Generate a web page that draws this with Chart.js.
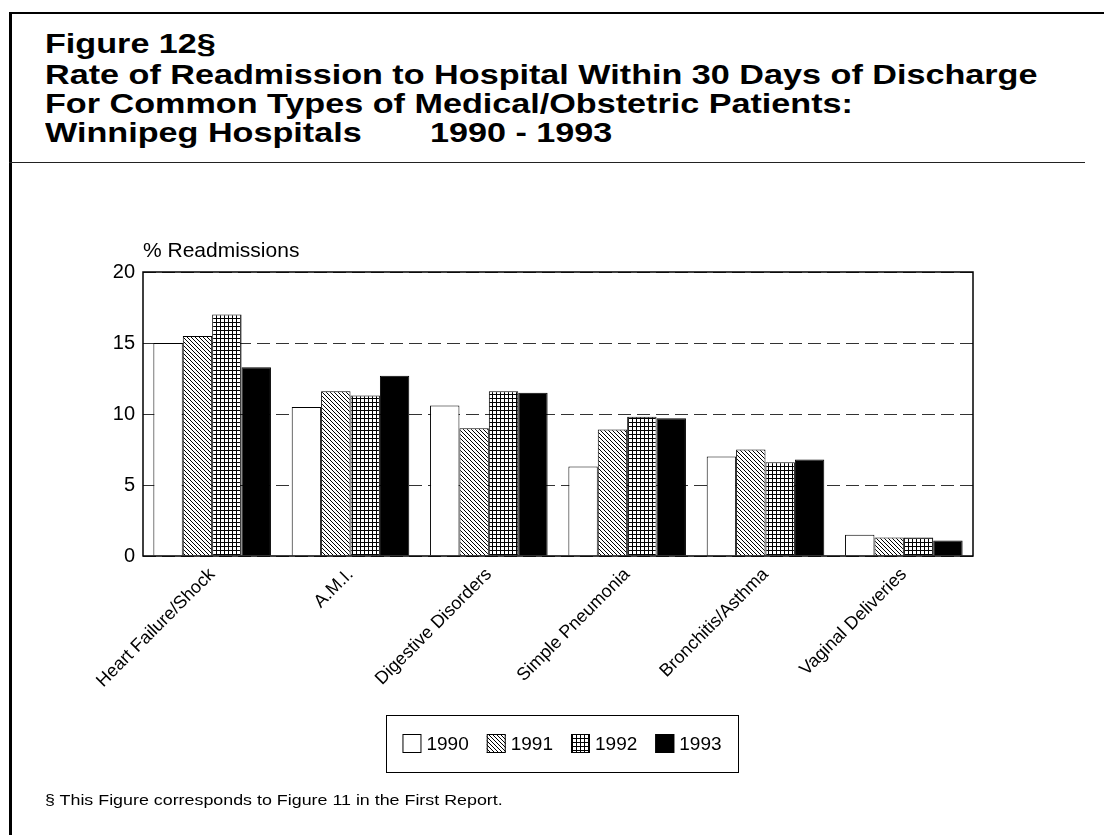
<!DOCTYPE html>
<html>
<head>
<meta charset="utf-8">
<script src="https://cdn.jsdelivr.net/npm/chart.js@4.4.1/dist/chart.umd.min.js"></script>
<style>
  body { margin: 0; background: #fff; font-family: "Liberation Sans", Arial, sans-serif; }
  #page { position: relative; width: 1104px; height: 835px; overflow: hidden; background: #fff; }
  .frameTop { position: absolute; left: 9px; top: 12px; width: 1095px; height: 2px; background: #000; }
  .frameLeft { position: absolute; left: 9px; top: 12px; width: 3px; height: 823px; background: #000; }
  .rule { position: absolute; left: 9px; top: 162px; width: 1076px; height: 1px; background: #222; }
  .t { position: absolute; left: 45px; font-weight: bold; font-size: 28px; line-height: 30px; color: #000;
       white-space: nowrap; transform: scaleX(1.22); transform-origin: 0 0; }
  .note { position: absolute; left: 45px; top: 791px; font-size: 15px; line-height: 18px; color: #000;
          white-space: nowrap; transform: scaleX(1.19); transform-origin: 0 0; }
  #wrap { position: absolute; left: 0; top: 170px; width: 1104px; height: 665px; }
</style>
</head>
<body>
<div id="page">
  <div class="frameTop"></div>
  <div class="frameLeft"></div>
  <div class="t" style="top:29px">Figure 12§</div>
  <div class="t" style="top:60px">Rate of Readmission to Hospital Within 30 Days of Discharge</div>
  <div class="t" style="top:89px">For Common Types of Medical/Obstetric Patients:</div>
  <div class="t" style="top:118px">Winnipeg Hospitals</div>
  <div class="t" style="top:118px; left:430px">1990 - 1993</div>
  <div class="rule"></div>
  <div id="wrap"><canvas id="myChart" width="1104" height="665"></canvas></div>
  <div class="note">§ This Figure corresponds to Figure 11 in the First Report.</div>
</div>
<script>
// data
const categories = ['Heart Failure/Shock', 'A.M.I.', 'Digestive Disorders', 'Simple Pneumonia', 'Bronchitis/Asthma', 'Vaginal Deliveries'];
const years = ['1990', '1991', '1992', '1993'];
const v1990 = [15.0, 10.5, 10.6, 6.3, 7.0, 1.5];
const v1991 = [15.5, 11.6, 9.0, 8.9, 7.5, 1.3];
const v1992 = [17.0, 11.3, 11.6, 9.8, 6.6, 1.3];
const v1993 = [13.3, 12.7, 11.5, 9.7, 6.8, 1.1];
const yTicks = [0, 5, 10, 15, 20];

// hatch patterns like the printed figure
function diagPattern() {
    const s = 4;
    const c = document.createElement('canvas');
    c.width = s; c.height = s;
    const g = c.getContext('2d');
    g.fillStyle = '#fff';
    g.fillRect(0, 0, s, s);
    g.strokeStyle = '#000';
    g.lineWidth = 1;
    for (const k of [-s, 0, s]) {
        g.beginPath();
        g.moveTo(k, 0);
        g.lineTo(k + s, s);
        g.stroke();
    }
    return g.createPattern(c, 'repeat');
}
function gridPattern() {
    const s = 4;
    const c = document.createElement('canvas');
    c.width = s; c.height = s;
    const g = c.getContext('2d');
    g.fillStyle = '#fff';
    g.fillRect(0, 0, s, s);
    g.fillStyle = '#000';
    g.fillRect(0, 0, s, 1);
    g.fillRect(0, 0, 1, s);
    return g.createPattern(c, 'repeat');
}

const fills = ['#ffffff', diagPattern(), gridPattern(), '#000000'];
const series = [v1990, v1991, v1992, v1993];
const font = '"Liberation Sans", Arial, sans-serif';

// frame, axis caption and boxed legend
const extras = {
    id: 'extras',
    afterDatasetsDraw(chart) {
        const { ctx, chartArea } = chart;
        ctx.save();
        ctx.strokeStyle = '#000';
        ctx.lineWidth = 1.5;
        ctx.strokeRect(chartArea.left, chartArea.top, chartArea.right - chartArea.left, chartArea.bottom - chartArea.top);
        ctx.restore();
    },
    afterDraw(chart) {
        const { ctx, chartArea } = chart;
        ctx.save();
        ctx.fillStyle = '#000';
        ctx.font = '21px ' + font;
        ctx.textBaseline = 'alphabetic';
        ctx.textAlign = 'left';
        ctx.fillText('% Readmissions', chartArea.left, chartArea.top - 15);

        // legend box
        const bx = 386, by = 545, bw = 352, bh = 57;
        ctx.strokeStyle = '#000';
        ctx.lineWidth = 1;
        ctx.strokeRect(bx + 0.5, by + 0.5, bw, bh);
        const sq = 19, gap = 5, itemGap = 18;
        ctx.font = '19px ' + font;
        let total = 0;
        const widths = years.map(y => ctx.measureText(y).width);
        widths.forEach(w => total += sq + gap + w);
        total += itemGap * (years.length - 1);
        let x = bx + (bw - total) / 2;
        const cy = by + bh / 2;
        years.forEach((y, i) => {
            ctx.fillStyle = fills[i];
            ctx.fillRect(x, cy - sq / 2, sq, sq);
            ctx.strokeStyle = '#000';
            ctx.strokeRect(x + 0.5, cy - sq / 2 + 0.5, sq - 1, sq - 1);
            ctx.fillStyle = '#000';
            ctx.textBaseline = 'middle';
            ctx.fillText(y, x + sq + gap, cy + 1);
            x += sq + gap + widths[i] + itemGap;
        });
        ctx.restore();
    }
};

const ctx = document.getElementById('myChart');

new Chart(ctx, {
    type: 'bar',
    data: {
        labels: categories,
        datasets: years.map((y, i) => ({
            label: y,
            data: series[i],
            backgroundColor: fills[i],
            borderColor: '#000',
            borderWidth: 1,
            categoryPercentage: 0.85,
            barPercentage: 1.0
        }))
    },
    options: {
        responsive: false,
        animation: false,
        layout: { padding: { left: 83, right: 131, top: 102, bottom: 129 } },
        plugins: {
            legend: { display: false },
            tooltip: { enabled: false }
        },
        scales: {
            x: {
                grid: { display: false },
                border: { display: false },
                ticks: {
                    color: '#000',
                    font: { family: font, size: 18 },
                    minRotation: 45,
                    maxRotation: 45,
                    padding: 0
                },
                afterFit(scale) { scale.height = 150; }
            },
            y: {
                min: yTicks[0],
                max: yTicks[yTicks.length - 1],
                afterBuildTicks(scale) { scale.ticks = yTicks.map(v => ({ value: v })); },
                grid: {
                    color: '#333',
                    lineWidth: 1,
                    drawTicks: false
                },
                border: { display: false, dash: [13, 6] },
                ticks: {
                    color: '#000',
                    font: { family: font, size: 20 },
                    padding: 8
                },
                afterFit(scale) { scale.width = 60; }
            }
        }
    },
    plugins: [extras]
});
</script>
</body>
</html>
